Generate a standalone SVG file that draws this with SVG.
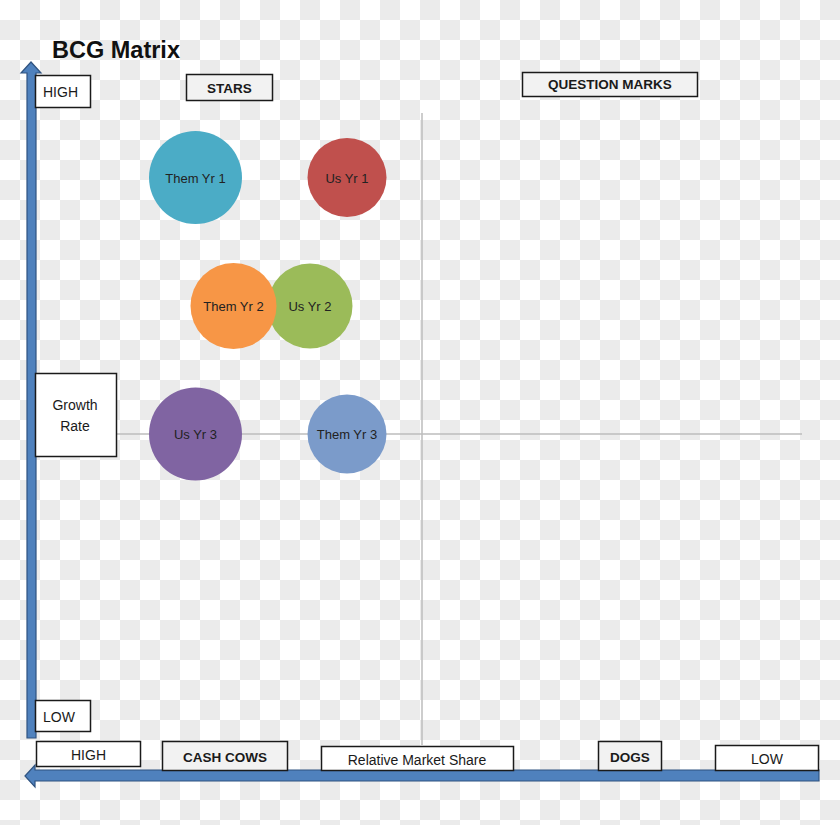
<svg xmlns="http://www.w3.org/2000/svg" width="840" height="825" viewBox="0 0 840 825">
<defs>
<pattern id="checker" x="0" y="0" width="40" height="40" patternUnits="userSpaceOnUse">
<rect x="0" y="0" width="40" height="40" fill="#ffffff"/>
<rect x="20" y="0" width="20" height="20" fill="#ebebeb"/>
<rect x="0" y="20" width="20" height="20" fill="#ebebeb"/>
</pattern>
<style>
.box{fill:#ffffff;stroke:#1a1a1a;stroke-width:1.5}
.qbox{fill:#f2f2f2;stroke:#1a1a1a;stroke-width:1.5}
.t{font-family:"Liberation Sans",Arial,sans-serif;font-size:14px;fill:#1a1a1a}
.b{font-family:"Liberation Sans",Arial,sans-serif;font-size:13.5px;font-weight:bold;fill:#1a1a1a}
.c{font-family:"Liberation Sans",Arial,sans-serif;font-size:13px;fill:#222222;text-anchor:middle}
.axis{fill:#4f81bd;stroke:#2f5380;stroke-width:1.2}
.grid{stroke:#bdbdbd;stroke-width:1.5;fill:none}
</style>
</defs>
<rect width="840" height="825" fill="url(#checker)"/>
<text x="52" y="58" font-family="Liberation Sans,Arial,sans-serif" font-size="23.5" font-weight="bold" fill="#111111">BCG Matrix</text>
<g id="connectors">
<line class="grid" x1="422" y1="113" x2="422" y2="745"/>
<line class="grid" x1="117" y1="434" x2="802" y2="434"/>
<polygon id="y-axis" class="axis" points="31,62 41,73 36,73 36,738 27,738 27,73 21,73"/>
<polygon id="x-axis" class="axis" points="25,776 35,765 35,770 819,770 819,781 35,781 35,787"/>
</g>
<g id="high-top"><rect class="box" x="35.5" y="75.5" width="55" height="32"/><text class="t" x="43" y="97">HIGH</text></g>
<g id="stars"><rect class="qbox" x="186.5" y="74.5" width="86" height="26"/><text class="b" x="229.5" y="93" text-anchor="middle">STARS</text></g>
<g id="question-marks"><rect class="qbox" x="522.5" y="72.5" width="175" height="24"/><text class="b" x="610" y="89" text-anchor="middle">QUESTION MARKS</text></g>
<g id="growth-rate"><rect class="box" x="35.5" y="373.5" width="81" height="83"/><text class="t" x="75" y="410" text-anchor="middle" font-size="14.5">Growth</text><text class="t" x="75" y="431" text-anchor="middle" font-size="14.5">Rate</text></g>
<g id="low-left"><rect class="box" x="35.5" y="700.5" width="55" height="31"/><text class="t" x="43" y="722">LOW</text></g>
<g id="high-bottom"><rect class="box" x="36.5" y="741.5" width="104" height="25"/><text class="t" x="88.5" y="760" text-anchor="middle">HIGH</text></g>
<g id="cash-cows"><rect class="qbox" x="162.5" y="741.5" width="125" height="29"/><text class="b" x="225" y="762" text-anchor="middle">CASH COWS</text></g>
<g id="relative-market-share"><rect class="box" x="321.5" y="746.5" width="192" height="24"/><text class="t" x="417" y="765" text-anchor="middle" font-size="14.5">Relative Market Share</text></g>
<g id="dogs"><rect class="qbox" x="598.5" y="741.5" width="63" height="29"/><text class="b" x="630" y="762" text-anchor="middle">DOGS</text></g>
<g id="low-right"><rect class="box" x="715.5" y="745.5" width="103" height="25"/><text class="t" x="767" y="764" text-anchor="middle">LOW</text></g>
<g id="them-yr1"><circle cx="195.5" cy="177.5" r="46.5" fill="#4bacc6"/><text class="c" x="195.5" y="183">Them Yr 1</text></g>
<g id="us-yr1"><circle cx="347" cy="177.5" r="39.5" fill="#c0504d"/><text class="c" x="347" y="183">Us Yr 1</text></g>
<g id="us-yr2"><circle cx="310" cy="306" r="42.5" fill="#9bbb59"/><text class="c" x="310" y="311">Us Yr 2</text></g>
<g id="them-yr2"><circle cx="233.5" cy="306" r="43" fill="#f79646"/><text class="c" x="233.5" y="311">Them Yr 2</text></g>
<g id="us-yr3"><circle cx="195.5" cy="434" r="46.5" fill="#8064a2"/><text class="c" x="195.5" y="439">Us Yr 3</text></g>
<g id="them-yr3"><circle cx="347" cy="434" r="39.5" fill="#7b9bca"/><text class="c" x="347" y="439">Them Yr 3</text></g>
</svg>
